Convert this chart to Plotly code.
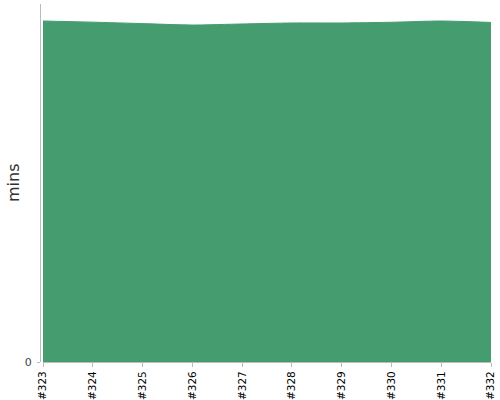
import plotly.graph_objects as go

builds = ["#323", "#324", "#325", "#326", "#327", "#328", "#329", "#330", "#331", "#332"]
minutes = [38.10, 37.97, 37.81, 37.65, 37.77, 37.88, 37.88, 37.96, 38.10, 37.94]
y_max = 40
y_title = "mins"

fill_color = "#459c6e"

fig = go.Figure(
    go.Scatter(
        x=builds,
        y=minutes,
        mode="lines",
        fill="tozeroy",
        fillcolor=fill_color,
        line=dict(color=fill_color, width=1, shape="spline", smoothing=0.6),
        hoverinfo="x+y",
    )
)

fig.update_layout(
    width=500,
    height=400,
    margin=dict(l=40, r=9, t=4, b=38),
    paper_bgcolor="white",
    plot_bgcolor="white",
    showlegend=False,
    font=dict(family="DejaVu Sans, sans-serif", color="#222"),
    xaxis=dict(
        type="category",
        domain=[3 / 451, 1],
        range=[0, len(builds) - 1],
        showgrid=False,
        zeroline=False,
        showline=True,
        linecolor="#bbbbbb",
        linewidth=1,
        ticks="outside",
        ticklen=4,
        tickcolor="#bbbbbb",
        tickangle=-90,
        tickfont=dict(size=10.5, color="#000"),
        automargin=False,
    ),
    yaxis=dict(
        range=[0, y_max],
        anchor="free",
        position=0,
        showgrid=False,
        zeroline=False,
        showline=True,
        linecolor="#bbbbbb",
        linewidth=1,
        ticks="outside",
        ticklen=3,
        tickcolor="#bbbbbb",
        ticklabelstandoff=3,
        tickvals=[0],
        ticktext=["0"],
        tickfont=dict(size=11, color="#444"),
        automargin=False,
    ),
    annotations=[
        dict(
            text=y_title,
            xref="paper",
            yref="paper",
            x=-27 / 451,
            y=0.5,
            xanchor="center",
            yanchor="middle",
            textangle=-90,
            showarrow=False,
            font=dict(size=16, color="#333"),
        )
    ],
)

fig.write_html(
    "out.html",
    config={"displayModeBar": False},
    post_script="document.body.style.margin='0px';document.body.style.overflow='hidden';",
)
